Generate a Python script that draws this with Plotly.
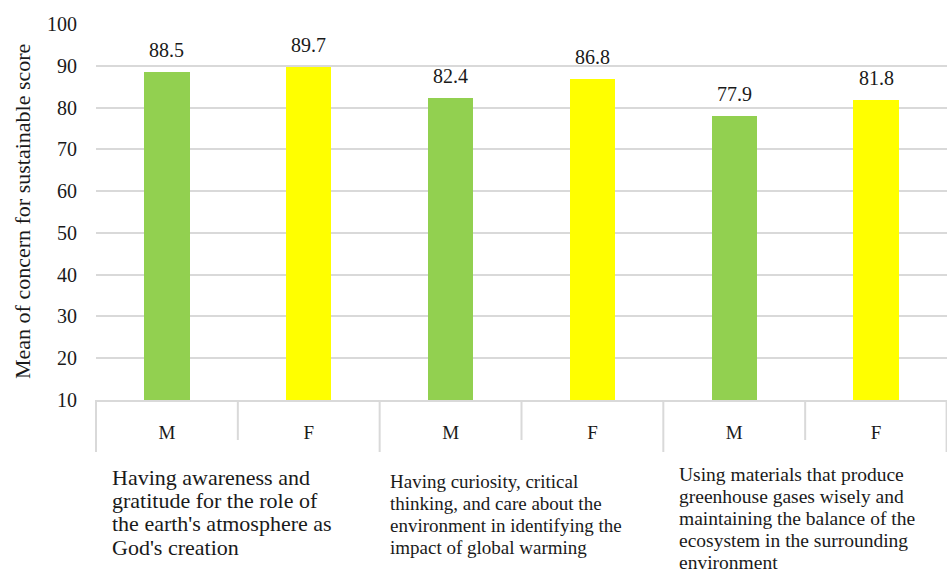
import plotly.graph_objects as go

# Mean concern-for-sustainability scores by gender, per indicator
sexes = ["M", "F", "M", "F", "M", "F"]
scores = [88.5, 89.7, 82.4, 86.8, 77.9, 81.8]
bar_colors = ["#92D050", "#FFFF00", "#92D050", "#FFFF00", "#92D050", "#FFFF00"]
indicators = [
    ["Having awareness and", "gratitude for the role of",
     "the earth's atmosphere as", "God's creation"],
    ["Having curiosity, critical", "thinking, and care about the",
     "environment in identifying the", "impact of global warming"],
    ["Using materials that produce", "greenhouse gases wisely and",
     "maintaining the balance of the", "ecosystem in the surrounding",
     "environment"],
]
y_ticks = [10, 20, 30, 40, 50, 60, 70, 80, 90, 100]
y_title = "Mean of concern for sustainable score"

FONT = "Liberation Serif"
GRID = "#d9d9d9"
W, H = 947, 572
ML, MT, MB = 96, 24, 172
plot_h = H - MT - MB

x_pos = list(range(len(scores)))

fig = go.Figure(go.Bar(
    x=x_pos, y=scores, marker=dict(color=bar_colors, line=dict(width=0)),
    width=0.32, hoverinfo="x+y",
))

# value labels above each bar
for xi, v in zip(x_pos, scores):
    fig.add_annotation(x=xi, y=v, text=f"{v:.1f}", showarrow=False,
                       xanchor="center", yanchor="middle", yshift=22,
                       font=dict(family=FONT, size=20, color="#1a1a1a"))

# category table dividers under the axis
n = len(scores)
for k in range(n + 1):
    depth = 52 if k % 2 == 0 else 40
    fig.add_shape(type="line", xref="paper", yref="paper",
                  x0=min(k / n, 0.9995), x1=min(k / n, 0.9995),
                  y0=0, y1=-depth / plot_h,
                  line=dict(color=GRID, width=2))

# indicator descriptions beneath each M/F pair
group_left = [110, 388, 677]
group_first = [477, 481, 474]
group_step = [23.4, 22.0, 22.0]
group_size = [22, 19, 19.5]
for g, lines in enumerate(indicators):
    for i, line in enumerate(lines):
        yc = group_first[g] + i * group_step[g]
        fig.add_annotation(
            xref="paper", yref="paper",
            x=(group_left[g] - ML) / (W - ML), y=(H - MB - yc) / plot_h,
            text=line, showarrow=False, xanchor="left", yanchor="middle",
            font=dict(family=FONT, size=group_size[g], color="#1a1a1a"))

# rotated y-axis title
fig.add_annotation(xref="paper", yref="paper", x=(22 - ML) / (W - ML), y=0.5,
                   text=y_title, textangle=-90, showarrow=False,
                   xanchor="center", yanchor="middle",
                   font=dict(family=FONT, size=22, color="#1a1a1a"))

fig.update_layout(
    width=W, height=H,
    margin=dict(l=ML, r=0, t=MT, b=MB, autoexpand=False),
    paper_bgcolor="white", plot_bgcolor="white",
    showlegend=False, bargap=0,
    font=dict(family=FONT, color="#1a1a1a"),
    xaxis=dict(range=[-0.5, n - 0.5], tickmode="array", tickvals=x_pos,
               ticktext=sexes, showgrid=False, zeroline=False,
               showline=True, linecolor=GRID, linewidth=2,
               ticks="", ticklabelstandoff=14,
               tickfont=dict(family=FONT, size=19, color="#1a1a1a"),
               fixedrange=True),
    yaxis=dict(range=[10, 100], tickmode="array", tickvals=y_ticks,
               showgrid=True, gridcolor=GRID, gridwidth=1.5,
               zeroline=False, showline=False, ticks="",
               ticklabelstandoff=18,
               tickfont=dict(family=FONT, size=20, color="#1a1a1a"),
               fixedrange=True),
)

fig.write_html("out.html")
